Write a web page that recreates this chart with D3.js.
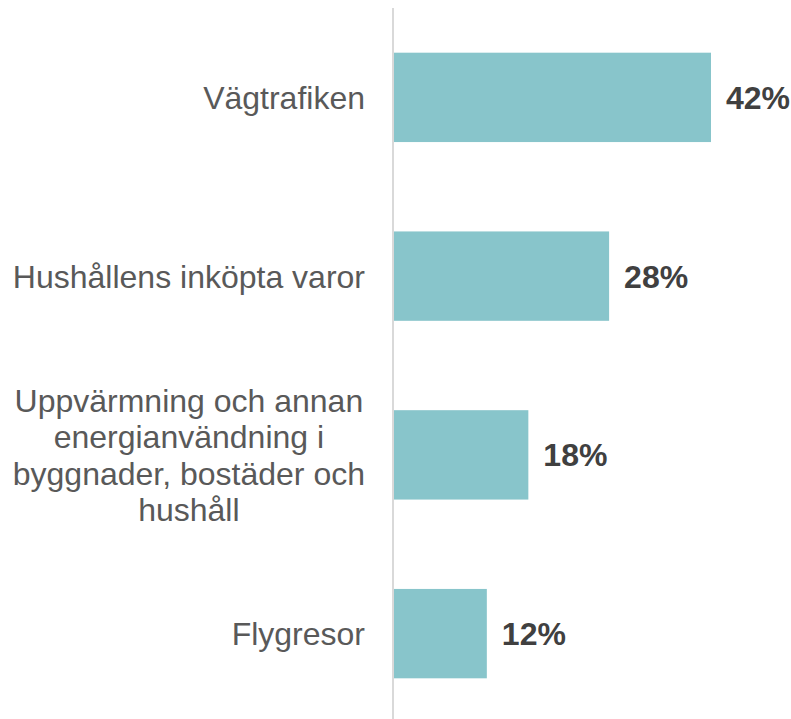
<!DOCTYPE html>
<html>
  <head>
    <meta charset="utf-8">
    <script src="https://d3js.org/d3.v7.min.js"></script>
    <style>
    body { margin: 0; background: #fff; }
    .cat { font-family: "Liberation Sans", Arial, sans-serif; font-size: 32px; fill: #595959; }
    .val { font-family: "Liberation Sans", Arial, sans-serif; font-size: 32px; font-weight: bold; fill: #404040; }
    </style>
  </head>
  <body>
    <script>

    var categories = [
      ["Vägtrafiken"],
      ["Hushållens inköpta varor"],
      ["Uppvärmning och annan", "energianvändning i", "byggnader, bostäder och", "hushåll"],
      ["Flygresor"]
    ];
    var values = [42, 28.5, 17.8, 12.3];
    var valueLabels = ["42%", "28%", "18%", "12%"];

    var width = 791, height = 719;
    var axisX = 393;

    var svg = d3.select("body").append("svg")
        .attr("width", width)
        .attr("height", height);

    var y = d3.scaleBand()
        .domain(d3.range(values.length))
        .range([8, 723])
        .paddingInner(0.5)
        .paddingOuter(0.25);

    var x = d3.scaleLinear().domain([0, 42]).range([axisX + 1, 711]);

    svg.selectAll("rect.bar")
        .data(values)
        .enter().append("rect")
          .attr("class", "bar")
          .attr("x", x(0))
          .attr("y", function(d, i) { return y(i); })
          .attr("width", function(d) { return x(d) - x(0); })
          .attr("height", y.bandwidth())
          .style("fill", "#88c5cb");

    // axis line
    svg.append("line")
        .attr("x1", axisX).attr("x2", axisX)
        .attr("y1", 8).attr("y2", height)
        .style("stroke", "#d9d9d9")
        .style("stroke-width", 2);

    svg.selectAll("text.val")
        .data(values)
        .enter().append("text")
          .attr("class", "val")
          .attr("x", function(d) { return x(d) + 15; })
          .attr("y", function(d, i) { return y(i) + y.bandwidth() / 2; })
          .attr("dy", "0.36em")
          .text(function(d, i) { return valueLabels[i]; });

    var lineH = 36.5;
    categories.forEach(function(lines, i) {
      var cy = y(i) + y.bandwidth() / 2;
      var g = svg.append("g");
      var texts = g.selectAll("text")
          .data(lines)
          .enter().append("text")
            .attr("class", "cat")
            .attr("y", function(d, j) { return cy + (j - (lines.length - 1) / 2) * lineH; })
            .attr("dy", "0.36em")
            .text(function(d) { return d; });
      var maxW = 0;
      texts.each(function() { maxW = Math.max(maxW, this.getComputedTextLength()); });
      texts.attr("x", 365 - maxW / 2).attr("text-anchor", "middle");
    });
    </script>
  </body>
</html>
